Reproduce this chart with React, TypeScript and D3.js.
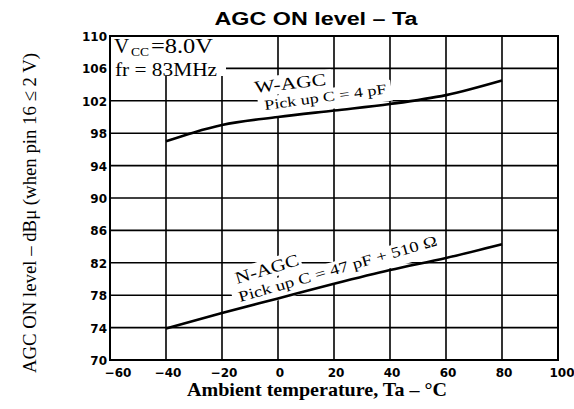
import React from "react";
import * as d3 from "d3";

const W = 574;
const H = 409;

const xTicks = [-60, -40, -20, 0, 20, 40, 60, 80, 100];
const yTicks = [70, 74, 78, 82, 86, 90, 94, 98, 102, 106, 110];
const xGrid = [-40, -20, 0, 20, 40, 60, 80];
const yGrid = [74, 78, 82, 86, 90, 94, 98, 102, 106];

const wTemp = [-40, -30, -20, 0, 20, 40, 60, 80];
const wLevel = [97.0, 98.1, 99.0, 100.0, 100.8, 101.6, 102.7, 104.5];
const nTemp = [-40, -20, 0, 20, 40, 60, 80];
const nLevel = [73.9, 75.8, 77.6, 79.4, 81.1, 82.6, 84.3];

const title = "AGC ON level – Ta";
const xTitle = "Ambient temperature, Ta – °C";
const yTitle = "AGC ON level – dBμ (when pin 16 ≤ 2 V)";

export default function App() {
  const left = 110, right = 558, top = 36, bottom = 360;
  const x = d3.scaleLinear().domain([-60, 100]).range([left, right]);
  const y = d3.scaleLinear().domain([70, 110]).range([bottom, top]);
  const line = d3
    .line<[number, number]>()
    .x((d) => x(d[0]))
    .y((d) => y(d[1]))
    .curve(d3.curveMonotoneX);
  const wData = wTemp.map((t, i) => [t, wLevel[i]] as [number, number]);
  const nData = nTemp.map((t, i) => [t, nLevel[i]] as [number, number]);
  const serif = "'Liberation Serif', 'Times New Roman', serif";
  const tickFont = "'DejaVu Sans', sans-serif";

  const labels = [
    { px: 255, py: 93, rot: -6.6, text: "W-AGC", size: 17, len: 72, bg: [-4, -15, 82, 19] },
    { px: 265, py: 110, rot: -7.8, text: "Pick up C = 4 pF", size: 14, len: 123, bg: [-6, -13, 134, 21] },
    { px: 237, py: 284, rot: -17, text: "N-AGC", size: 17, len: 66, bg: [-4, -15, 72, 19] },
    { px: 240, py: 302, rot: -16, text: "Pick up C = 47 pF + 510 Ω", size: 15, len: 206, bg: [-6, -13, 214, 22] },
  ];

  return (
    <svg
      width={W}
      height={H}
      style={{ position: "absolute", left: 0, top: 0, background: "#fff" }}
    >
      <rect x={0} y={0} width={W} height={H} fill="#fff" />
      <text
        x={316}
        y={25}
        textAnchor="middle"
        fontFamily="'Liberation Sans', Arial, sans-serif"
        fontWeight="bold"
        fontSize={18}
        textLength={203}
        lengthAdjust="spacingAndGlyphs"
      >
        {title}
      </text>

      {xGrid.map((v) => (
        <line key={"gx" + v} x1={x(v)} x2={x(v)} y1={y(110)} y2={y(70)} stroke="#000" strokeWidth={1.6} />
      ))}
      {yGrid.map((v) => (
        <line key={"gy" + v} x1={x(-60)} x2={x(100)} y1={y(v)} y2={y(v)} stroke="#000" strokeWidth={1.6} />
      ))}

      {/* condition box */}
      <rect x={x(-60)} y={y(110)} width={116} height={40} fill="#fff" />

      {/* label backgrounds */}
      {labels.map((l, i) => (
        <g key={"bg" + i} transform={`translate(${l.px},${l.py}) rotate(${l.rot})`}>
          <rect x={l.bg[0]} y={l.bg[1]} width={l.bg[2]} height={l.bg[3]} fill="#fff" />
        </g>
      ))}

      <path d={line(wData) || ""} fill="none" stroke="#000" strokeWidth={2.6} />
      <path d={line(nData) || ""} fill="none" stroke="#000" strokeWidth={2.6} />

      {labels.map((l, i) => (
        <g key={"lb" + i} transform={`translate(${l.px},${l.py}) rotate(${l.rot})`}>
          <text
            fontFamily={serif}
            fontSize={l.size}
            textLength={l.len}
            lengthAdjust="spacingAndGlyphs"
            fill="#000"
          >
            {l.text}
          </text>
        </g>
      ))}

      <rect x={left} y={top} width={right - left} height={bottom - top} fill="none" stroke="#000" strokeWidth={2} />

      <text x={114} y={53} fontFamily={serif} fontSize={21}>V</text>
      <text x={131} y={56} fontFamily={serif} fontSize={13} textLength={18} lengthAdjust="spacingAndGlyphs">CC</text>
      <text x={151} y={53} fontFamily={serif} fontSize={21} textLength={62} lengthAdjust="spacingAndGlyphs">=8.0V</text>
      <text x={115} y={76} fontFamily={serif} fontSize={19} textLength={102} lengthAdjust="spacingAndGlyphs">
        fr = 83MHz
      </text>

      {yTicks.map((v) => (
        <text
          key={"ty" + v}
          x={107}
          y={y(v) + 5}
          textAnchor="end"
          fontFamily={tickFont}
          fontWeight="bold"
          fontSize={12}
        >
          {v}
        </text>
      ))}
      {xTicks.map((v) => (
        <text
          key={"tx" + v}
          x={x(v) + (v === -60 ? 8 : v === 100 ? 4 : 2)}
          y={377}
          textAnchor="middle"
          fontFamily={tickFont}
          fontWeight="bold"
          fontSize={12}
        >
          {v < 0 ? "−" + Math.abs(v) : v}
        </text>
      ))}

      <text
        x={317}
        y={396}
        textAnchor="middle"
        fontFamily={serif}
        fontWeight="bold"
        fontSize={19}
        textLength={260}
        lengthAdjust="spacingAndGlyphs"
      >
        {xTitle}
      </text>
      <text
        transform={`translate(36,213) rotate(-90)`}
        textAnchor="middle"
        fontFamily={serif}
        fontSize={19}
        textLength={320}
        lengthAdjust="spacingAndGlyphs"
      >
        {yTitle}
      </text>
    </svg>
  );
}
